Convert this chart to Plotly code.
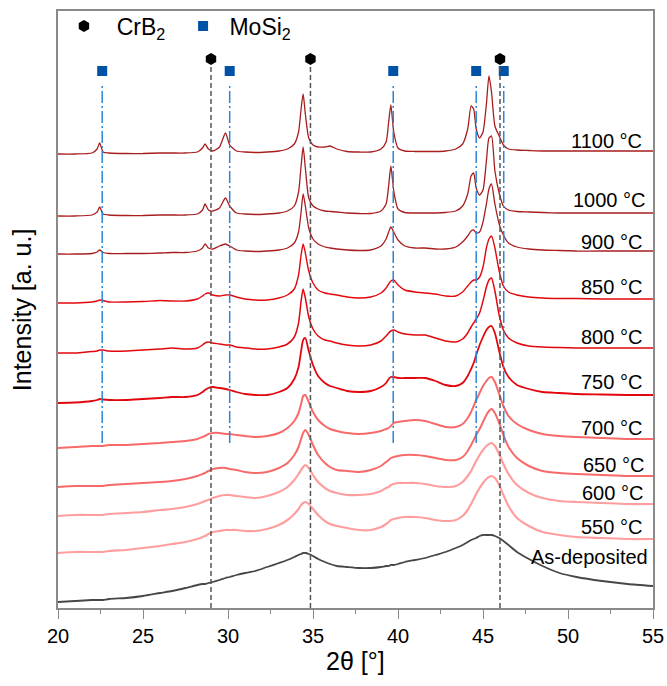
import plotly.graph_objects as go

# ---------------- data ----------------
two_theta = [20, 21, 22, 22.3, 22.45, 22.65, 23, 24, 25, 26, 26.7, 27.5, 28.2, 28.5, 28.65, 28.85,
             29.1, 29.5, 29.85, 30.1, 30.5, 31, 31.6, 32.3, 33, 33.5, 33.9, 34.15, 34.3, 34.42,
             34.55, 34.75, 35.0, 35.3, 35.7, 36.0, 36.4, 37, 37.7, 38.4, 39.0, 39.3, 39.45, 39.58,
             39.75, 40.0, 40.4, 41, 41.6, 42.2, 42.8, 43.4, 43.8, 44.1, 44.3, 44.45, 44.6, 44.8,
             45.0, 45.2, 45.35, 45.5, 45.7, 45.95, 46.2, 46.5, 47, 47.7, 48.5, 49.5, 50.5, 52,
             53.5, 55]

i_1100 = [0, 0, 1, 5, 11, 2, 1, 0.5, 0.5, 1, 1, 1, 2, 6, 10, 5, 3, 7, 21, 9, 3, 2, 1.5, 2, 3, 5,
          10, 22, 45, 60, 40, 16, 9, 7, 7, 8, 5, 2.5, 2, 2, 5, 12, 32, 49, 22, 6, 3, 2.5, 2.5, 2.5,
          3, 5, 10, 25, 48, 45, 25, 16, 22, 50, 78, 62, 28, 18, 9, 5, 4, 3.5, 3, 3, 3, 3, 3, 3]
i_1000 = [0, 0, 1, 4, 9, 2, 1, 0.5, 0.5, 1, 1, 1, 2, 6, 12, 6, 5, 8, 18, 10, 3, 2, 1.5, 2, 3, 5,
          10, 24, 50, 69, 48, 18, 10, 7, 5, 4.5, 4, 3, 2.5, 2.5, 5, 12, 30, 50, 25, 7, 3.5, 3, 3, 3,
          3.5, 5, 10, 22, 40, 43, 28, 21, 26, 55, 78, 80, 45, 23, 10, 6, 4.5, 4, 3.5, 3, 3, 3, 3, 3]
i_900 = [0, 0, 0.5, 2, 4, 1.5, 0.5, 0.5, 0.5, 1, 1.5, 1.5, 3, 6, 10, 6, 5, 8, 10, 8, 4, 3, 2.5, 3,
         4, 6, 11, 22, 42, 60, 48, 26, 15, 10, 7, 6, 5, 4, 3.5, 4, 8, 15, 22, 27, 22, 14, 8, 6, 6, 5,
         5, 7, 12, 18, 23, 24, 21, 22, 32, 50, 65, 70, 50, 30, 19, 11, 7, 5, 4, 3.5, 3, 3, 3, 3]
i_850 = [0, 0, 1, 2, 3, 2.5, 1, 1, 1.5, 2.5, 2, 2, 4, 7, 9, 10, 8, 7, 8, 8, 6, 4, 3, 3, 5, 8, 14,
         28, 48, 59, 50, 32, 20, 13, 10, 9, 8, 6, 5, 6, 10, 15, 19, 22, 23, 18, 13, 11, 10, 9, 7, 7,
         11, 17, 21, 23, 23, 26, 36, 55, 64, 67, 55, 32, 17, 11, 8, 6, 5, 4.5, 4.5, 4, 4, 4]
i_800 = [0, 0, 1.5, 2, 3, 3, 2, 2, 3, 4, 5, 4, 5, 8, 10, 11, 10, 9, 8, 8, 6, 5, 4, 4, 6, 9, 16, 30,
         52, 64, 55, 36, 24, 17, 13, 12, 10, 8, 7, 8, 12, 17, 20, 22, 23, 21, 19, 18, 18, 15, 12, 11,
         14, 20, 26, 30, 34, 40, 52, 66, 73, 75, 62, 38, 23, 15, 10, 7, 6, 5.5, 5, 5, 5, 5]
i_750 = [0, 0.5, 2, 3, 4, 3.5, 3, 3, 4, 5, 6, 6, 8, 11, 13, 15, 16, 15, 14, 13, 11, 9, 8, 8, 11, 15,
         24, 36, 52, 63, 65, 52, 38, 27, 20, 17, 15, 12, 11, 12, 16, 20, 24, 26, 26, 25, 25, 25, 25,
         22, 18, 17, 20, 27, 34, 40, 48, 58, 66, 73, 76, 77, 70, 52, 36, 26, 18, 14, 11, 10, 9, 8.5,
         8, 8]
i_700 = [0, 1, 2, 2, 2, 2, 3, 3, 4, 5, 6, 7, 9, 11, 12, 14, 15, 15, 14, 14, 13, 12, 11, 12, 15, 20,
         27, 35, 44, 52, 53, 46, 36, 28, 22, 19, 17, 15, 14, 15, 17, 19, 20, 22, 25, 26, 27, 28, 27,
         24, 21, 21, 24, 30, 36, 42, 48, 55, 62, 67, 70, 71, 66, 54, 42, 32, 24, 18, 14, 12, 11, 10,
         9, 9]
i_650 = [0, 1, 1, 1, 1, 1, 2, 3, 4, 5, 6, 8, 11, 13, 14, 16, 18, 19, 19, 18, 17, 15, 14, 15, 19, 24,
         32, 40, 48, 54, 57, 52, 42, 32, 24, 20, 17, 16, 15, 17, 21, 25, 27, 29, 30, 31, 32, 32, 31,
         29, 27, 27, 30, 36, 42, 47, 52, 58, 65, 72, 76, 78, 74, 64, 52, 40, 29, 21, 16, 14, 13, 12,
         11, 11]
i_600 = [0, 1, 1, 1, 1, 1, 2, 3, 4, 6, 7, 9, 12, 14, 15, 16, 18, 20, 21, 21, 20, 19, 18, 20, 24, 29,
         36, 42, 46, 49, 51, 48, 41, 34, 28, 25, 23, 21, 21, 22, 25, 28, 29, 31, 32, 33, 33, 33, 32,
         30, 29, 30, 34, 40, 45, 50, 55, 61, 66, 70, 72, 73, 70, 62, 52, 42, 31, 23, 18, 15, 14, 13,
         12, 12]
i_550 = [0, 1, 1, 1, 1, 1, 2, 3, 5, 7, 9, 11, 14, 16, 17, 19, 21, 22, 23, 23, 23, 22, 22, 24, 28, 33,
         39, 44, 48, 50, 51, 49, 44, 38, 32, 29, 27, 25, 23, 23, 26, 29, 31, 33, 34, 35, 36, 36, 35,
         33, 32, 33, 37, 43, 49, 54, 59, 65, 70, 74, 76, 77, 75, 68, 58, 47, 35, 27, 21, 18, 16, 15,
         14, 14]
i_asdep = [0, 1, 2, 2, 2, 2, 3, 4, 6, 9, 11, 14, 17, 18, 18, 19, 20, 22, 24, 25, 27, 29, 31, 35, 39,
           42, 45, 47, 48, 49, 49, 48, 46, 43, 40, 38, 36, 35, 34, 34, 35, 36, 36, 37, 37, 38, 40, 42,
           44, 47, 50, 54, 57, 60, 62, 63, 64, 66, 67, 67, 67, 67, 66, 64, 61, 57, 50, 43, 36, 29, 25,
           21, 18, 16]

sample_labels = ["1100 °C", "1000 °C", "900 °C", "850 °C", "800 °C", "750 °C",
                 "700 °C", "650 °C", "600 °C", "550 °C", "As-deposited"]
stack_offsets = [454, 392, 354, 305, 255, 205, 160, 121, 92, 55, 6]

crb2_peaks = [29.0, 34.85, 46.0]
mosi2_peaks = [22.6, 30.1, 39.72, 44.6, 46.22]

# ---------------- styling ----------------
series = [i_1100, i_1000, i_900, i_850, i_800, i_750, i_700, i_650, i_600, i_550, i_asdep]
colors = ["#a81e1f", "#a81e1f", "#a81e1f", "#e2070d", "#e2070d", "#e2070d",
          "#f86a6a", "#f86a6a", "#ff9e9e", "#ff9e9e", "#474747"]
widths = [1.3, 1.3, 1.3, 1.4, 1.5, 1.8, 2.0, 2.0, 2.2, 2.2, 1.8]
label_x = [54.45, 54.69, 54.45, 54.45, 54.45, 54.45, 54.45, 54.57, 54.5, 54.45, 54.8]
label_y = [467, 408, 366, 321, 271, 226, 180, 143, 115, 81, 51]

FONT = "Arial, Liberation Sans, sans-serif"

fig = go.Figure()

for ys, off, c, w in zip(series, stack_offsets, colors, widths):
    fig.add_trace(go.Scatter(
        x=two_theta, y=[v + off for v in ys], mode="lines",
        line=dict(color=c, width=w, shape="spline", smoothing=0.6),
        showlegend=False, hoverinfo="skip"))

# reference lines
shapes = []
for p in crb2_peaks:
    shapes.append(dict(type="line", xref="x", yref="y", x0=p, x1=p, y0=0, y1=541,
                       line=dict(color="#555555", width=1.5, dash="5px,3px")))
for p in mosi2_peaks:
    shapes.append(dict(type="line", xref="x", yref="y", x0=p, x1=p, y0=165, y1=525,
                       line=dict(color="#2a86d6", width=1.5, dash="12px,3px,2px,3px")))

fig.add_trace(go.Scatter(
    x=crb2_peaks, y=[549] * len(crb2_peaks), mode="markers",
    marker=dict(symbol="hexagon", size=12, color="black"),
    name="\u00a0\u00a0CrB<sub>2</sub>\u00a0\u00a0", hoverinfo="skip"))
fig.add_trace(go.Scatter(
    x=mosi2_peaks, y=[537] * len(mosi2_peaks), mode="markers",
    marker=dict(symbol="square", size=10, color="#0052a6"),
    name="\u00a0MoSi<sub>2</sub>", hoverinfo="skip"))

annotations = []
for t, lx, ly in zip(sample_labels, label_x, label_y):
    annotations.append(dict(x=lx, y=ly, xref="x", yref="y", text=t, showarrow=False,
                            xanchor="right", yanchor="middle",
                            font=dict(family=FONT, size=20, color="black")))
annotations.append(dict(x=-0.061, y=0.5, xref="paper", yref="paper", text="Intensity [a. u.]",
                        textangle=-90, showarrow=False, xanchor="center", yanchor="middle",
                        font=dict(family=FONT, size=25, color="black")))
annotations.append(dict(x=0.5, y=-0.0888, xref="paper", yref="paper", text="2θ [°]",
                        showarrow=False, xanchor="center", yanchor="middle",
                        font=dict(family=FONT, size=25, color="black")))

fig.update_layout(
    width=667, height=686,
    margin=dict(l=58, r=14, t=11, b=78, autoexpand=False),
    paper_bgcolor="white", plot_bgcolor="white",
    shapes=shapes, annotations=annotations,
    legend=dict(orientation="h", x=0.01, y=0.975, xanchor="left", yanchor="middle",
                font=dict(family=FONT, size=23, color="black"),
                bgcolor="rgba(0,0,0,0)", itemsizing="trace", tracegroupgap=0),
    xaxis=dict(range=[20, 55], dtick=5, tick0=20, ticks="outside", ticklen=9, tickwidth=1.2,
               tickcolor="#8a8a8a", showline=True, linecolor="#8a8a8a", linewidth=1.5,
               mirror=True, showgrid=False, zeroline=False, automargin=False,
               tickfont=dict(family=FONT, size=20, color="black"),
               minor=dict(dtick=2.5, ticks="outside", ticklen=4, tickcolor="#8a8a8a",
                          tickwidth=1.2, showgrid=False)),
    yaxis=dict(range=[0, 597], showticklabels=False, ticks="", showline=True,
               linecolor="#8a8a8a", linewidth=1.5, mirror=True, showgrid=False,
               zeroline=False, automargin=False),
)

fig.write_html("out.html", config={"displayModeBar": False},
               post_script="document.body.style.margin='0';"
                           "document.body.style.overflow='hidden';")
